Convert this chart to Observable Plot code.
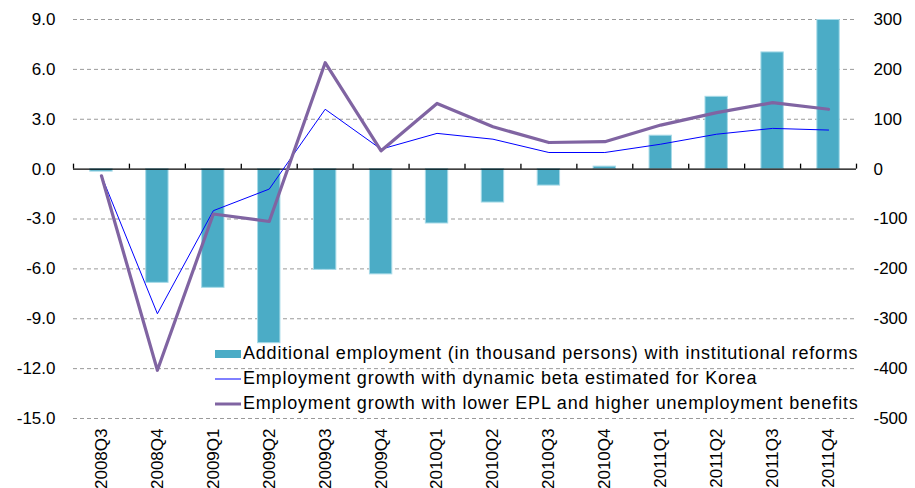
<!DOCTYPE html>
<html>
<head>
<meta charset="utf-8">
<script src="https://cdn.jsdelivr.net/npm/d3@7"></script>
<script src="https://cdn.jsdelivr.net/npm/@observablehq/plot@0.6"></script>
<style>
  html, body { margin: 0; padding: 0; background: #fff; }
  #chart { position: relative; width: 915px; height: 488px; }
  .legend { position: absolute; left: 215px; top: 341px; font-family: "Liberation Sans", Arial, sans-serif; font-size: 18px; color: #000; letter-spacing: 0.8px; }
  .legend .row { display: flex; align-items: center; height: 25px; white-space: nowrap; }
  .legend svg { margin-right: 2px; }
</style>
</head>
<body>
<div id="chart"></div>
<script>
const quarters = ["2008Q3","2008Q4","2009Q1","2009Q2","2009Q3","2009Q4","2010Q1","2010Q2","2010Q3","2010Q4","2011Q1","2011Q2","2011Q3","2011Q4"];
// Additional employment (thousand persons), right axis
const additionalEmployment = [-5, -228, -238, -349, -202, -211, -109, -67, -33, 5, 67, 145, 234, 299];
// Employment growth, left axis
const growthKorea = [-0.4, -8.7, -2.5, -1.2, 3.6, 1.2, 2.15, 1.8, 1.0, 1.0, 1.5, 2.1, 2.45, 2.35];
const growthReform = [-0.4, -12.1, -2.7, -3.15, 6.4, 1.1, 3.95, 2.55, 1.6, 1.65, 2.65, 3.4, 4.0, 3.6];
const leftTicks = [-15, -12, -9, -6, -3, 0, 3, 6, 9];
const rightTicks = [-500, -400, -300, -200, -100, 0, 100, 200, 300];
const legendLabels = [
  "Additional employment (in thousand persons) with institutional reforms",
  "Employment growth with dynamic beta estimated for Korea",
  "Employment growth with lower EPL and higher unemployment benefits"
];

const ratio = 9 / 300; // left units per right unit
const bars = quarters.map((q, i) => ({q, v: additionalEmployment[i]}));
const lineK = quarters.map((q, i) => ({q, v: growthKorea[i]}));
const lineR = quarters.map((q, i) => ({q, v: growthReform[i]}));

const W = 915, H = 488, ML = 73, MR = 59, MT = 19, MB = 70;
const step = (W - ML - MR) / quarters.length;
const font = "Liberation Sans, Arial, sans-serif";

const chart = Plot.plot({
  width: W, height: H,
  marginLeft: ML, marginRight: MR, marginTop: MT, marginBottom: MB,
  style: {fontFamily: font, fontSize: "17px", color: "#000", background: "#fff", overflow: "visible"},
  x: {type: "band", domain: quarters, paddingInner: 0.6, paddingOuter: 0.3, round: false},
  y: {domain: [-15, 9]},
  marks: [
    Plot.ruleY(leftTicks.filter(d => d !== 0), {y: d => d, stroke: "#9a9a9a", strokeWidth: 1, strokeDasharray: "4,3"}),
    Plot.barY(bars, {x: "q", y: d => d.v * ratio, fill: "#4BACC6", stroke: "#a6dae8", strokeWidth: 1}),
    Plot.ruleY([0], {stroke: "#000", strokeWidth: 1.3}),
    Plot.ruleX(quarters, {x: d => d, y1: 0, y2: 0.3, dx: -step / 2, stroke: "#000", strokeWidth: 1.3}),
    Plot.ruleX([quarters[quarters.length - 1]], {x: d => d, y1: 0, y2: 0.3, dx: step / 2, stroke: "#000", strokeWidth: 1.3}),
    Plot.line(lineK, {x: "q", y: "v", stroke: "#0000FF", strokeWidth: 1}),
    Plot.line(lineR, {x: "q", y: "v", stroke: "#8064A2", strokeWidth: 3.2}),
    Plot.axisY({ticks: leftTicks, tickFormat: d => d.toFixed(1), tickSize: 0, tickPadding: 18, label: null, fontSize: 17, style: {letterSpacing: "1px"}}),
    Plot.axisY({anchor: "right", ticks: leftTicks, tickFormat: (d, i) => String(rightTicks[i]), tickSize: 0, tickPadding: 17, label: null, fontSize: 17, style: {letterSpacing: "1.2px"}}),
    Plot.axisX({anchor: "bottom", tickRotate: -90, tickSize: 0, tickPadding: 10, label: null, fontSize: 17, style: {letterSpacing: "-0.5px"}})
  ]
});

const container = document.getElementById("chart");
container.appendChild(chart);

// Legend
const legend = document.createElement("div");
legend.className = "legend";
const swatches = [
  `<svg width="26" height="10"><rect x="0" y="1" width="26" height="8" fill="#4BACC6"/></svg>`,
  `<svg width="26" height="10"><line x1="0" x2="26" y1="5" y2="5" stroke="#0000FF" stroke-width="1"/></svg>`,
  `<svg width="26" height="10"><line x1="0" x2="26" y1="5" y2="5" stroke="#8064A2" stroke-width="3"/></svg>`
];
legendLabels.forEach((t, i) => {
  const row = document.createElement("div");
  row.className = "row";
  row.innerHTML = swatches[i] + `<span>${t}</span>`;
  legend.appendChild(row);
});
container.appendChild(legend);
</script>
</body>
</html>
